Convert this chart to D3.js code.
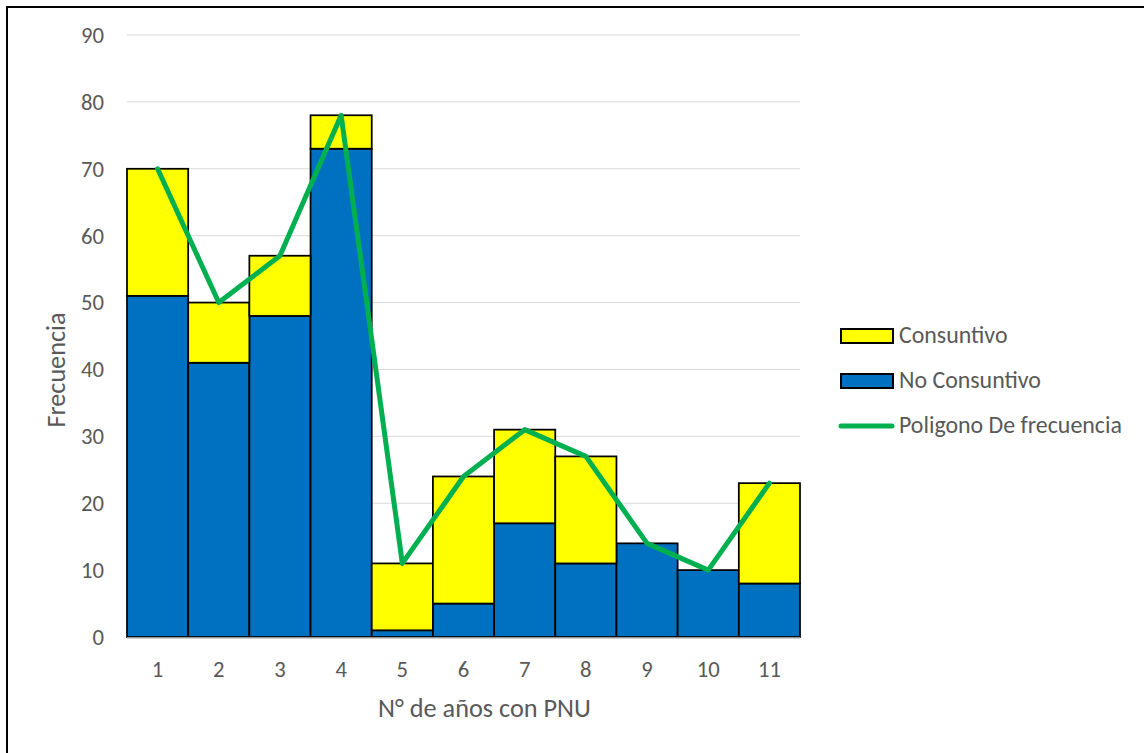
<!DOCTYPE html>
<html><head><meta charset="utf-8">
<script src="https://cdn.jsdelivr.net/npm/d3@7"></script>
<style>body{margin:0;background:#fff;} svg{display:block;font-family:Calibri,Carlito,Lato,"Liberation Sans",sans-serif;}</style>
</head><body>
<svg id="c" width="1144" height="753"></svg>
<script>
const categories = ["1","2","3","4","5","6","7","8","9","10","11"];
const noConsuntivo = [51,41,48,73,1,5,17,11,14,10,8];
const consuntivo = [19,9,9,5,10,19,14,16,0,0,15];
const poligono = [70,50,57,78,11,24,31,27,14,10,23];
const yTicks = [0,10,20,30,40,50,60,70,80,90];

const svg = d3.select("#c");
const pLeft=127, pRight=800, pTop=35, pBottom=637;
const x = d3.scaleBand().domain(categories).range([pLeft,pRight]).padding(0);
const y = d3.scaleLinear().domain([0,90]).range([pBottom,pTop]);
const textCol = "#595959";

// font-size fitting helper
function fitSize(str, target){
  const t = svg.append("text").attr("font-size",100).text(str);
  const w = t.node().getComputedTextLength();
  t.remove();
  return 100*target/w;
}
const tickFs = fitSize("90", 23);
const legFs = fitSize("Poligono De frecuencia", 223);
const xTitleFs = fitSize("N° de años con PNU", 213);
const yTitleFs = fitSize("Frecuencia", 115);

// frame
svg.append("line").attr("x1",6).attr("y1",7).attr("x2",1144).attr("y2",7).attr("stroke","#000").attr("stroke-width",2);
svg.append("line").attr("x1",7).attr("y1",6).attr("x2",7).attr("y2",753).attr("stroke","#000").attr("stroke-width",2);

// gridlines
svg.append("g").selectAll("line").data(yTicks.filter(d=>d>0)).join("line")
  .attr("x1",pLeft).attr("x2",pRight).attr("y1",d=>y(d)).attr("y2",d=>y(d))
  .attr("stroke","#d9d9d9").attr("stroke-width",1);

// y labels
svg.append("g").selectAll("text").data(yTicks).join("text")
  .attr("x",104).attr("y",d=>y(d)).attr("dy","0.35em").attr("text-anchor","end")
  .attr("font-size",tickFs).attr("fill",textCol).text(d=>d);

// bars
const g = svg.append("g");
g.selectAll("rect.nc").data(categories).join("rect").attr("class","nc")
  .attr("x",d=>x(d)).attr("width",x.bandwidth())
  .attr("y",(d,i)=>y(noConsuntivo[i])).attr("height",(d,i)=>y(0)-y(noConsuntivo[i]))
  .attr("fill","#0070C0").attr("stroke","#000").attr("stroke-width",1.75);
g.selectAll("rect.c").data(categories).join("rect").attr("class","c")
  .attr("x",d=>x(d)).attr("width",x.bandwidth())
  .attr("y",(d,i)=>y(noConsuntivo[i]+consuntivo[i])).attr("height",(d,i)=>y(noConsuntivo[i])-y(noConsuntivo[i]+consuntivo[i]))
  .attr("fill","#FFFF00").attr("stroke","#000").attr("stroke-width",1.75)
  .style("display",(d,i)=>consuntivo[i]>0?null:"none");

// x axis line
svg.append("line").attr("x1",pLeft).attr("x2",pRight).attr("y1",pBottom+1).attr("y2",pBottom+1).attr("stroke","#bfbfbf").attr("stroke-width",1.5);

// x labels
svg.append("g").selectAll("text").data(categories).join("text")
  .attr("x",d=>x(d)+x.bandwidth()/2).attr("y",669).attr("dy","0.35em").attr("text-anchor","middle")
  .attr("font-size",tickFs).attr("fill",textCol).text(d=>d);

// polygon line
const line = d3.line().x((d,i)=>x(categories[i])+x.bandwidth()/2).y(d=>y(d));
svg.append("path").datum(poligono).attr("d",line).attr("fill","none")
  .attr("stroke","#00B050").attr("stroke-width",5).attr("stroke-linejoin","round").attr("stroke-linecap","round");

// axis titles
svg.append("text").attr("x",378).attr("y",717).attr("text-anchor","start")
  .attr("font-size",xTitleFs).attr("fill",textCol).text("N° de años con PNU");
svg.append("text").attr("transform","translate(65,370) rotate(-90)").attr("text-anchor","middle")
  .attr("font-size",yTitleFs).attr("fill",textCol).text("Frecuencia");

// legend
const leg = svg.append("g");
leg.append("rect").attr("x",841).attr("y",329).attr("width",52).attr("height",14).attr("fill","#FFFF00").attr("stroke","#000").attr("stroke-width",2);
leg.append("text").attr("x",899).attr("y",343).attr("font-size",legFs).attr("fill",textCol).text("Consuntivo");
leg.append("rect").attr("x",841).attr("y",374).attr("width",52).attr("height",14).attr("fill","#0070C0").attr("stroke","#000").attr("stroke-width",2);
leg.append("text").attr("x",899).attr("y",388).attr("font-size",legFs).attr("fill",textCol).text("No Consuntivo");
leg.append("line").attr("x1",841).attr("x2",892).attr("y1",426).attr("y2",426).attr("stroke","#00B050").attr("stroke-width",5).attr("stroke-linecap","round");
leg.append("text").attr("x",899).attr("y",433).attr("font-size",legFs).attr("fill",textCol).text("Poligono De frecuencia");
</script>
</body></html>
